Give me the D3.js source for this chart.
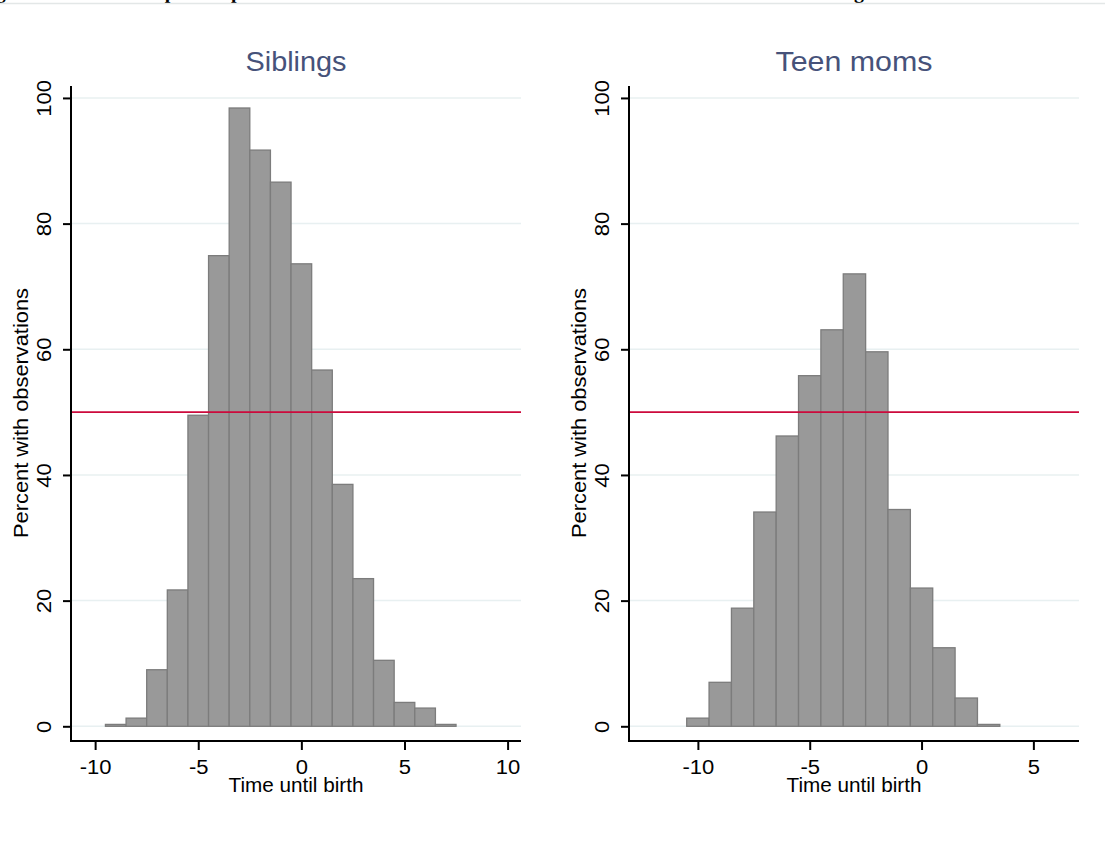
<!DOCTYPE html>
<html lang="en">
<head>
<meta charset="UTF-8">
<title>Time until birth histograms</title>
<script src="https://d3js.org/d3.v7.min.js"></script>
<style>
  body { margin: 0; background: #fff; }
  svg { display: block; }
  text { font-family: "Liberation Sans", Arial, sans-serif; fill: #000; }
</style>
</head>
<body>
<div id="chart"></div>
<script>
// ---------- data ----------
var panelTitles = ["Siblings", "Teen moms"];

var sibBins = [-9, -8, -7, -6, -5, -4, -3, -2, -1, 0, 1, 2, 3, 4, 5, 6, 7];
var sibPct  = [0.3, 1.3, 9.0, 21.7, 49.5, 74.9, 98.4, 91.7, 86.6, 73.6, 56.7, 38.5, 23.5, 10.5, 3.8, 2.9, 0.3];

var teenBins = [-10, -9, -8, -7, -6, -5, -4, -3, -2, -1, 0, 1, 2, 3];
var teenPct  = [1.3, 7.0, 18.8, 34.1, 46.2, 55.8, 63.1, 72.0, 59.6, 34.5, 22.0, 12.5, 4.5, 0.3];

var sibXTicks  = [-10, -5, 0, 5, 10];
var teenXTicks = [-10, -5, 0, 5];
var yTicks = [0, 20, 40, 60, 80, 100];
var refLine = 50;

var xTitle = "Time until birth";
var yTitle = "Percent with observations";
var caption = "Figure 3: Overall sample composition: the share of mothers with data at each time until birth for siblings and teen moms";

// ----------
var W = 1105, H = 842;
var svg = d3.select("#chart").append("svg")
    .attr("width", W).attr("height", H);

// cut-off caption above the chart (only descenders show)
svg.append("text")
    .attr("x", -22).attr("y", -2.5)
    .style("font-family", "'Liberation Serif', 'Times New Roman', serif")
    .style("font-weight", "bold")
    .style("font-size", "20px")
    .text(caption);
svg.append("line")
    .attr("x1", 0).attr("x2", W).attr("y1", 3.5).attr("y2", 3.5)
    .style("stroke", "#e3e7e7").style("stroke-width", 1.5);

var panels = [
  { title: panelTitles[0], bins: sibBins, pct: sibPct, ticks: sibXTicks,
    left: 71, right: 521, xdom: [-11.17, 10.65], titleLen: 101 },
  { title: panelTitles[1], bins: teenBins, pct: teenPct, ticks: teenXTicks,
    left: 629, right: 1079, xdom: [-13.08, 7.04], titleLen: 157 }
];

var plotTop = 86, plotBottom = 741;

function stretch(sel, k) {
  sel.each(function() {
    var w = this.getComputedTextLength();
    d3.select(this).attr("textLength", w * k).attr("lengthAdjust", "spacingAndGlyphs");
  });
}
var fmt = function(d) { return String(d); };   // plain hyphen minus, like the original

panels.forEach(function(p) {
  var x = d3.scaleLinear().domain(p.xdom).range([p.left, p.right]);
  var y = d3.scaleLinear().domain([-2.34, 101.9]).range([plotBottom, plotTop]);
  var g = svg.append("g");

  // grid
  g.selectAll(".grid").data(yTicks).enter().append("line")
      .attr("x1", p.left).attr("x2", p.right)
      .attr("y1", function(d) { return y(d); })
      .attr("y2", function(d) { return y(d); })
      .style("stroke", "#e8f0f1").style("stroke-width", 1.5);

  // bars, unit width centred on each bin
  g.selectAll(".bar").data(p.bins).enter().append("rect")
      .attr("x", function(d) { return x(d - 0.5); })
      .attr("width", function(d) { return x(d + 0.5) - x(d - 0.5); })
      .attr("y", function(d, i) { return y(p.pct[i]); })
      .attr("height", function(d, i) { return y(0) - y(p.pct[i]); })
      .style("fill", "#999999")
      .style("stroke", "#7c7c7c")
      .style("stroke-width", 1.3);

  // 50% line
  g.append("line")
      .attr("x1", p.left).attr("x2", p.right)
      .attr("y1", y(refLine)).attr("y2", y(refLine))
      .style("stroke", "#cc0a3c").style("stroke-width", 1.6);

  // axes
  var xa = g.append("g").attr("transform", "translate(0," + plotBottom + ")")
      .call(d3.axisBottom(x).tickValues(p.ticks).tickSize(9).tickFormat(fmt));
  var ya = g.append("g").attr("transform", "translate(" + p.left + ",0)")
      .call(d3.axisLeft(y).tickValues(yTicks).tickSize(8).tickFormat(fmt));

  [xa, ya].forEach(function(a) {
    a.select(".domain").remove();
    a.selectAll(".tick line").style("stroke", "#000").style("stroke-width", 2);
    a.selectAll(".tick text").style("font-size", "20px").style("fill", "#000")
      .style("font-family", "'Liberation Sans', Arial, sans-serif");
  });
  xa.selectAll(".tick text").attr("dy", null).attr("y", 33);
  ya.selectAll(".tick text")
      .attr("x", null).attr("dy", null)
      .attr("text-anchor", "middle")
      .attr("transform", "translate(-27,0) rotate(-90) translate(0,7)");
  stretch(xa.selectAll(".tick text"), 1.1);
  stretch(ya.selectAll(".tick text"), 1.1);

  // axis lines drawn plainly
  g.append("line").attr("x1", p.left).attr("x2", p.left)
      .attr("y1", plotTop).attr("y2", plotBottom + 1)
      .style("stroke", "#000").style("stroke-width", 2);
  g.append("line").attr("x1", p.left - 1).attr("x2", p.right)
      .attr("y1", plotBottom).attr("y2", plotBottom)
      .style("stroke", "#000").style("stroke-width", 2);

  // titles
  var cx = (p.left + p.right) / 2;
  g.append("text")
      .attr("x", cx).attr("y", 71)
      .attr("text-anchor", "middle")
      .attr("textLength", p.titleLen).attr("lengthAdjust", "spacingAndGlyphs")
      .style("font-size", "27px").style("fill", "#46527a")
      .text(p.title);

  g.append("text")
      .attr("x", cx).attr("y", 792)
      .attr("text-anchor", "middle")
      .attr("textLength", 135).attr("lengthAdjust", "spacingAndGlyphs")
      .style("font-size", "20px")
      .text(xTitle);

  g.append("text")
      .attr("transform", "translate(" + (p.left - 50) + "," + 413 + ") rotate(-90)")
      .attr("text-anchor", "middle")
      .attr("dy", "0.35em")
      .attr("textLength", 250).attr("lengthAdjust", "spacingAndGlyphs")
      .style("font-size", "20px")
      .text(yTitle);
});
</script>
</body>
</html>
